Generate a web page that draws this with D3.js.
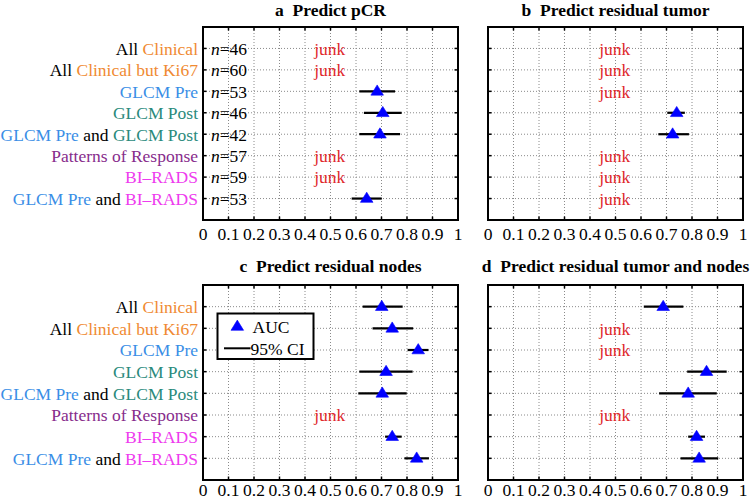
<!DOCTYPE html>
<html>
<head>
<meta charset="utf-8">
<script src="https://cdn.jsdelivr.net/npm/d3@7"></script>
<style>
  html, body { margin: 0; padding: 0; background: #fff; }
  svg { display: block; }
  text { font-family: "Liberation Serif", "Times New Roman", serif; white-space: pre; }
</style>
</head>
<body>
<svg id="chart" width="750" height="500"></svg>
<script>
// ---------------- DATA ----------------
const rowLabels = [
  ["All ", "Clinical"],
  ["All ", "Clinical but Ki67"],
  ["GLCM Pre"],
  ["GLCM Post"],
  ["GLCM Pre", " and ", "GLCM Post"],
  ["Patterns of Response"],
  ["BI–RADS"],
  ["GLCM Pre", " and ", "BI–RADS"]
];
const nValues = [46, 60, 53, 46, 42, 57, 59, 53];
const xTickValues = [0, 0.1, 0.2, 0.3, 0.4, 0.5, 0.6, 0.7, 0.8, 0.9, 1];
const xTickLabels = ["0", "0.1", "0.2", "0.3", "0.4", "0.5", "0.6", "0.7", "0.8", "0.9", "1"];
const panelTitles = [
  ["a", "Predict pCR"],
  ["b", "Predict residual tumor"],
  ["c", "Predict residual nodes"],
  ["d", "Predict residual tumor and nodes"]
];
const junkText = "junk";

// panel a: Predict pCR
const aucA = [null, null, 0.683, 0.705, 0.694, null, null, 0.642];
const loA  = [null, null, 0.613, 0.631, 0.613, null, null, 0.583];
const hiA  = [null, null, 0.753, 0.779, 0.773, null, null, 0.701];
// panel b: Predict residual tumor
const aucB = [null, null, null, 0.740, 0.724, null, null, null];
const loB  = [null, null, null, 0.703, 0.668, null, null, null];
const hiB  = [null, null, null, 0.772, 0.788, null, null, null];
// panel c: Predict residual nodes
const aucC = [0.701, 0.742, 0.844, 0.718, 0.703, null, 0.742, 0.838];
const loC  = [0.626, 0.665, 0.803, 0.613, 0.609, null, 0.714, 0.790];
const hiC  = [0.783, 0.824, 0.884, 0.822, 0.799, null, 0.779, 0.886];
// panel d: Predict residual tumor and nodes
const aucD = [0.687, null, null, 0.857, 0.785, null, 0.818, 0.828];
const loD  = [0.611, null, null, 0.781, 0.671, null, 0.785, 0.755];
const hiD  = [0.766, null, null, 0.936, 0.897, null, 0.851, 0.903];

const legendLabels = ["AUC", "95% CI"];

// ---------------- STYLE ----------------
const termColor = {
  "Clinical": "#f08a32",
  "Clinical but Ki67": "#f08a32",
  "GLCM Pre": "#3a8ee6",
  "GLCM Post": "#2a8a7c",
  "Patterns of Response": "#872c8c",
  "BI–RADS": "#ee3cee"
};
const FS = 17.5;
const svg = d3.select("#chart");

const panels = [
  { title: panelTitles[0], auc: aucA, lo: loA, hi: hiA, x0: 203, x1: 458, y0: 27, y1: 220, tickY: 240, titleY: 15.5, labels: true, n: true },
  { title: panelTitles[1], auc: aucB, lo: loB, hi: hiB, x0: 488, x1: 743, y0: 27, y1: 220, tickY: 240, titleY: 15.5, labels: false, n: false },
  { title: panelTitles[2], auc: aucC, lo: loC, hi: hiC, x0: 203, x1: 458, y0: 285, y1: 480, tickY: 496, titleY: 272, labels: true, n: false, legend: true },
  { title: panelTitles[3], auc: aucD, lo: loD, hi: hiD, x0: 488, x1: 743, y0: 285, y1: 480, tickY: 496, titleY: 272, labels: false, n: false }
];

function tri(cx, cy) {
  return `M${cx - 6.3},${cy + 3.8}L${cx},${cy - 6.4}L${cx + 6.3},${cy + 3.8}Z`;
}

panels.forEach(p => {
  const x = d3.scaleLinear().domain([0, 1]).range([p.x0, p.x1]);
  const y = d3.scaleLinear().domain([0, 9]).range([p.y0, p.y1]);
  const rows = d3.range(1, 9);
  const g = svg.append("g");

  // grid
  g.selectAll(".vg").data(xTickValues.slice(1, -1)).join("line")
    .attr("x1", d => x(d)).attr("x2", d => x(d))
    .attr("y1", p.y0).attr("y2", p.y1)
    .attr("stroke", "#8a8a8a").attr("stroke-width", 1).attr("stroke-dasharray", "1,2");
  g.selectAll(".hg").data(rows).join("line")
    .attr("x1", p.x0).attr("x2", p.x1)
    .attr("y1", d => y(d)).attr("y2", d => y(d))
    .attr("stroke", "#8a8a8a").attr("stroke-width", 1).attr("stroke-dasharray", "1,2");

  // ticks (inward, on all four sides)
  const tk = 3.5;
  xTickValues.slice(1, -1).forEach(v => {
    g.append("line").attr("x1", x(v)).attr("x2", x(v)).attr("y1", p.y0).attr("y2", p.y0 + tk).attr("stroke", "#000").attr("stroke-width", 1.5);
    g.append("line").attr("x1", x(v)).attr("x2", x(v)).attr("y1", p.y1).attr("y2", p.y1 - tk).attr("stroke", "#000").attr("stroke-width", 1.5);
  });
  rows.forEach(r => {
    g.append("line").attr("x1", p.x0).attr("x2", p.x0 + tk).attr("y1", y(r)).attr("y2", y(r)).attr("stroke", "#000").attr("stroke-width", 1.5);
    g.append("line").attr("x1", p.x1).attr("x2", p.x1 - tk).attr("y1", y(r)).attr("y2", y(r)).attr("stroke", "#000").attr("stroke-width", 1.5);
  });

  // x tick labels
  g.selectAll(".xl").data(xTickValues).join("text")
    .attr("x", d => x(d)).attr("y", p.tickY)
    .attr("text-anchor", "middle").attr("font-size", FS).attr("fill", "#000")
    .text((d, i) => xTickLabels[i]);

  // title
  const t = g.append("text")
    .attr("x", (p.x0 + p.x1) / 2).attr("y", p.titleY)
    .attr("text-anchor", "middle").attr("font-size", FS).attr("font-weight", "bold").attr("fill", "#000");
  t.append("tspan").text(p.title[0]);
  t.append("tspan").text("  " + p.title[1]);

  // row labels
  if (p.labels) {
    rowLabels.forEach((parts, i) => {
      const tx = g.append("text")
        .attr("x", p.x0 - 5).attr("y", y(i + 1)).attr("dy", "0.36em")
        .attr("text-anchor", "end").attr("font-size", FS);
      parts.forEach(part => {
        tx.append("tspan").attr("fill", termColor[part] || "#000").text(part);
      });
    });
  }

  // n labels
  if (p.n) {
    nValues.forEach((v, i) => {
      const tx = g.append("text").attr("x", p.x0 + 8).attr("y", y(i + 1)).attr("dy", "0.36em")
        .attr("font-size", FS).attr("fill", "#000");
      tx.append("tspan").attr("font-style", "italic").text("n");
      tx.append("tspan").text("=" + v);
    });
  }

  // data
  p.auc.forEach((v, i) => {
    const yy = y(i + 1);
    if (v == null) {
      g.append("text").attr("x", x(0.497)).attr("y", yy).attr("dy", "0.36em")
        .attr("text-anchor", "middle").attr("font-size", FS).attr("fill", "#e0282c").text(junkText);
    } else {
      g.append("line").attr("x1", x(p.lo[i])).attr("x2", x(p.hi[i]))
        .attr("y1", yy).attr("y2", yy).attr("stroke", "#000").attr("stroke-width", 2.2);
      g.append("path").attr("d", tri(x(v), yy))
        .attr("fill", "#0000ff").attr("stroke", "#0000ff").attr("stroke-width", 0.6);
    }
  });

  // frame
  g.append("rect").attr("x", p.x0).attr("y", p.y0)
    .attr("width", p.x1 - p.x0).attr("height", p.y1 - p.y0)
    .attr("fill", "none").attr("stroke", "#000").attr("stroke-width", 2);

  // legend
  if (p.legend) {
    const lg = g.append("g");
    lg.append("rect").attr("x", 217.5).attr("y", 313.5).attr("width", 96).attr("height", 45.5)
      .attr("fill", "#fff").attr("stroke", "#000").attr("stroke-width", 2);
    const lx = 237.3, ly = 326.5;
    lg.append("path").attr("d", tri(lx, ly))
      .attr("fill", "#0000ff").attr("stroke", "#0000ff").attr("stroke-width", 0.6);
    lg.append("text").attr("x", 252.5).attr("y", ly).attr("dy", "0.36em").attr("font-size", FS).text(legendLabels[0]);
    lg.append("line").attr("x1", 224).attr("x2", 250.5).attr("y1", 348.3).attr("y2", 348.3)
      .attr("stroke", "#000").attr("stroke-width", 2);
    lg.append("text").attr("x", 250.5).attr("y", 348.3).attr("dy", "0.36em").attr("font-size", FS).text(legendLabels[1]);
  }
});
</script>
</body>
</html>
